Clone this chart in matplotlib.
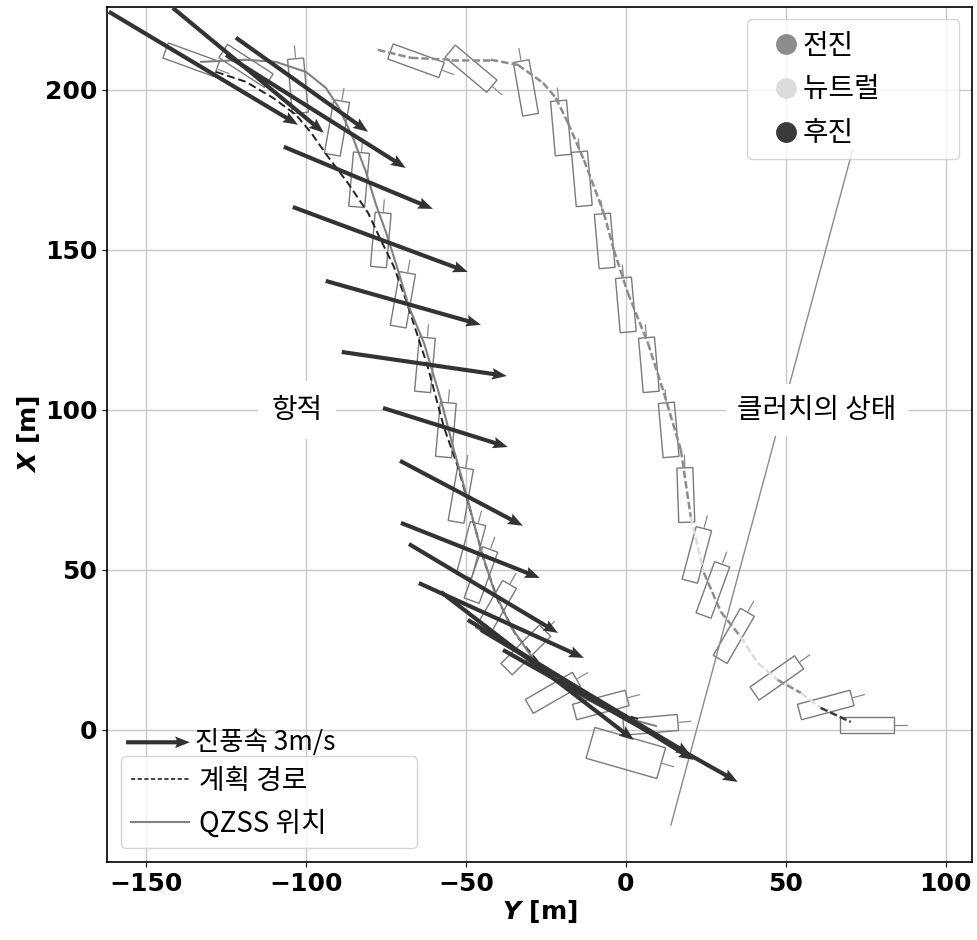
import numpy as np
import matplotlib
matplotlib.use('Agg')
import matplotlib.pyplot as plt
from matplotlib.patches import Rectangle
from matplotlib.lines import Line2D

plt.rcParams['font.family'] = ['Noto Sans CJK KR', 'DejaVu Sans']
plt.rcParams['mathtext.fontset'] = 'custom'
plt.rcParams['mathtext.it'] = 'DejaVu Sans:bold:italic'
plt.rcParams['mathtext.rm'] = 'DejaVu Sans:bold'

# 바람 벡터 (꼬리 위치와 성분)
wind_x = [-161.6, -141.6, -121.9, -125.0, -106.9, -104.1, -93.8, -88.8, -75.9,
          -70.6, -70.3, -67.8, -64.7, -57.8, -49.4, -38.4, -45.3]
wind_y = [224.4, 225.6, 216.3, 210.9, 182.2, 163.4, 140.3, 118.1, 100.6,
          84.1, 64.7, 58.1, 45.9, 43.1, 34.4, 25.0, 31.25]
wind_u = [59.1, 47.2, 41.3, 56.2, 46.6, 54.7, 48.5, 51.6, 39.0,
          38.4, 43.4, 46.6, 51.6, 60.3, 70.6, 73.4, 65.6]
wind_v = [-35.3, -39.0, -29.4, -35.3, -19.4, -20.3, -13.7, -7.5, -12.2,
          -20.3, -17.2, -27.8, -23.4, -46.25, -43.75, -41.25, -39.1]

# 계획 경로
plan_x = [-128.1, -118.75, -110.3, -103.1, -98.4, -93.1, -86.9, -80.6, -76.6, -72.5,
          -68.75, -61.9, -56.9, -52.5, -48.4, -44.4, -40.0, -34.4, -26.6, -15.6, -4.7, 4.7]
plan_y = [205.6, 202.5, 197.5, 192.2, 186.6, 179.1, 170.9, 161.6, 153.1, 144.7,
          134.4, 113.4, 94.7, 82.2, 67.8, 53.1, 40.6, 29.7, 20.3, 11.9, 6.25, 3.1]

# QZSS 위치 (항적)
qzss_x = [-132.8, -118.75, -109.4, -100.0, -93.75, -89.7, -85.3, -81.25, -78.1, -75.0,
          -71.25, -67.8, -63.1, -57.8, -53.75, -49.4, -45.3, -41.25, -35.9, -28.75,
          -18.1, -5.6, 2.5, 9.4]
qzss_y = [208.75, 209.4, 208.75, 205.6, 200.6, 194.4, 185.0, 174.4, 164.1, 155.6,
          143.75, 132.2, 120.9, 103.1, 87.5, 71.9, 56.25, 43.75, 32.2, 21.9,
          12.5, 6.25, 3.1, 1.25]

# 클러치 상태 궤적 (F: 전진, N: 뉴트럴, R: 후진)
clutch_x = [-77.5, -67.2, -54.7, -42.2, -33.75, -25.9, -21.9, -18.1, -13.1, -6.9,
            -3.75, 0.6, 6.9, 11.9, 17.2, 20.3, 24.4, 29.7, 35.9, 41.25,
            47.5, 54.7, 60.9, 70.3]
clutch_y = [212.5, 210.0, 209.4, 209.4, 207.8, 202.2, 197.5, 189.7, 178.1, 161.6,
            150.0, 136.6, 120.9, 105.3, 87.5, 66.6, 49.1, 36.9, 29.1, 20.9,
            15.6, 11.6, 6.9, 2.5]
clutch_state = ['F', 'F', 'F', 'F', 'F', 'F', 'F', 'F', 'F', 'F',
                'F', 'F', 'F', 'F', 'F', 'N', 'F', 'F', 'N', 'N',
                'F', 'N', 'R', 'R']

# 선체 윤곽 (중심, 방향[deg], 길이, 폭)
boat_x = [-135.9, -118.75, -102.5, -90.3, -83.4, -76.6, -69.7, -62.8, -56.25, -51.6,
          -48.4, -45.3, -40.6, -31.25, -22.8, -7.8, 7.8, 0.0,
          -65.6, -48.4, -31.25, -20.3, -13.75, -6.6, 0.0, 7.2, 13.4, 18.75,
          22.2, 27.2, 33.75, 47.2, 62.5, 75.3]
boat_y = [209.4, 207.5, 201.25, 188.1, 171.9, 153.1, 134.4, 114.1, 93.75, 73.4,
          56.25, 48.4, 38.1, 25.0, 11.6, 7.8, 1.6, -7.2,
          209.1, 206.6, 200.6, 188.1, 172.2, 152.8, 132.8, 114.1, 93.75, 73.4,
          54.7, 43.75, 29.4, 16.25, 7.8, 1.6]
boat_ang = [-20, -33, 95, 80, 85, 85, 80, 85, 85, 80,
            75, 70, 60, 45, 30, 15, 5, -16,
            -20, -40, 100, 95, 95, 95, 95, 95, 95, 92,
            75, 70, 60, 35, 15, 0]
boat_len = [17] * 17 + [23] + [17] * 16
boat_wid = [5] * 17 + [10] + [5] * 16

state_color = {'F': '#8c8c8c', 'N': '#dcdcdc', 'R': '#3a3a3a'}

fig = plt.figure(figsize=(9.77, 9.40), dpi=100)
ax = fig.add_axes([0.1095, 0.083, 0.885, 0.9096])
ax.set_xlim(-162.2, 108.1)
ax.set_ylim(-41.25, 225.9)
ax.grid(True, color='#c8c8c8', lw=1)
ax.set_axisbelow(True)

# 선체
for cx, cy, a, L, W in zip(boat_x, boat_y, boat_ang, boat_len, boat_wid):
    ax.add_patch(Rectangle((cx - L / 2, cy - W / 2), L, W, angle=a,
                           rotation_point='center', fill=False,
                           ec='#7a7a7a', lw=1, zorder=2))
    d = np.array([np.cos(np.radians(a)), np.sin(np.radians(a))])
    p1 = np.array([cx, cy]) + d * (L / 2 + 0.5)
    p2 = np.array([cx, cy]) + d * (L / 2 + 4)
    ax.plot([p1[0], p2[0]], [p1[1], p2[1]], color='#8a8a8a', lw=0.9, zorder=2)

# 클러치의 상태 보조선
ax.plot([70.9, 14.1], [181.25, -29.7], color='#8a8a8a', lw=1, zorder=2)

ax.plot(plan_x, plan_y, ls=(0, (4, 2)), color='#222222', lw=1.4, zorder=3)
ax.plot(qzss_x, qzss_y, color='#808080', lw=1.5, zorder=3)

for i in range(len(clutch_x) - 1):
    ax.plot(clutch_x[i:i + 2], clutch_y[i:i + 2], color=state_color[clutch_state[i]],
            lw=1.8, ls=(0, (3, 1.2)), zorder=3)

Q = ax.quiver(wind_x, wind_y, wind_u, wind_v, angles='xy', scale_units='xy', scale=1,
              color='#333333', width=0.0048, headwidth=2.8, headlength=3.6,
              headaxislength=3.2, zorder=4)
ax.quiverkey(Q, 0.096, 0.140, 20, '진풍속 3m/s', labelpos='E', coordinates='axes',
             fontproperties={'size': 19}, labelsep=0.05)

ax.text(-102.8, 100, '항적', fontsize=20, ha='center', va='center', zorder=5,
        bbox=dict(boxstyle='square,pad=0.5', fc='white', ec='none'))
ax.text(59.7, 100, '클러치의 상태', fontsize=20, ha='center', va='center', zorder=5,
        bbox=dict(boxstyle='square,pad=0.4', fc='white', ec='none'))

leg1_handles = [Line2D([], [], ls='none', marker='o', ms=14, color=state_color[s],
                       mec=state_color[s]) for s in ['F', 'N', 'R']]
leg1 = ax.legend(leg1_handles, ['전진', '뉴트럴' + ' ' * 11, '후진'], loc='upper right',
                 fontsize=20, handlelength=2.0, handletextpad=-0.4, labelspacing=0.5,
                 borderpad=0.4, borderaxespad=0.45)
ax.add_artist(leg1)

leg2_handles = [Line2D([], [], ls=(0, (2.5, 1.5)), color='#222222', lw=1.2),
                Line2D([], [], color='#808080', lw=1.5)]
ax.legend(leg2_handles, ['계획 경로', 'QZSS 위치' + ' ' * 13], loc='lower left', fontsize=20,
          handlelength=2.1, handletextpad=0.35, labelspacing=0.45, borderpad=0.35)

ax.set_xticks([-150, -100, -50, 0, 50, 100])
ax.set_yticks([0, 50, 100, 150, 200])
for lab in ax.get_xticklabels() + ax.get_yticklabels():
    lab.set_fontfamily('DejaVu Sans')
    lab.set_fontweight('bold')
    lab.set_fontsize(18)
ax.set_xlabel('$Y$ [m]', fontfamily='DejaVu Sans', fontweight='bold', fontsize=18, labelpad=2)
ax.set_ylabel('$X$ [m]', fontfamily='DejaVu Sans', fontweight='bold', fontsize=18, labelpad=2)
for s in ax.spines.values():
    s.set_linewidth(1.2)

fig.savefig('out.png', dpi=100)
